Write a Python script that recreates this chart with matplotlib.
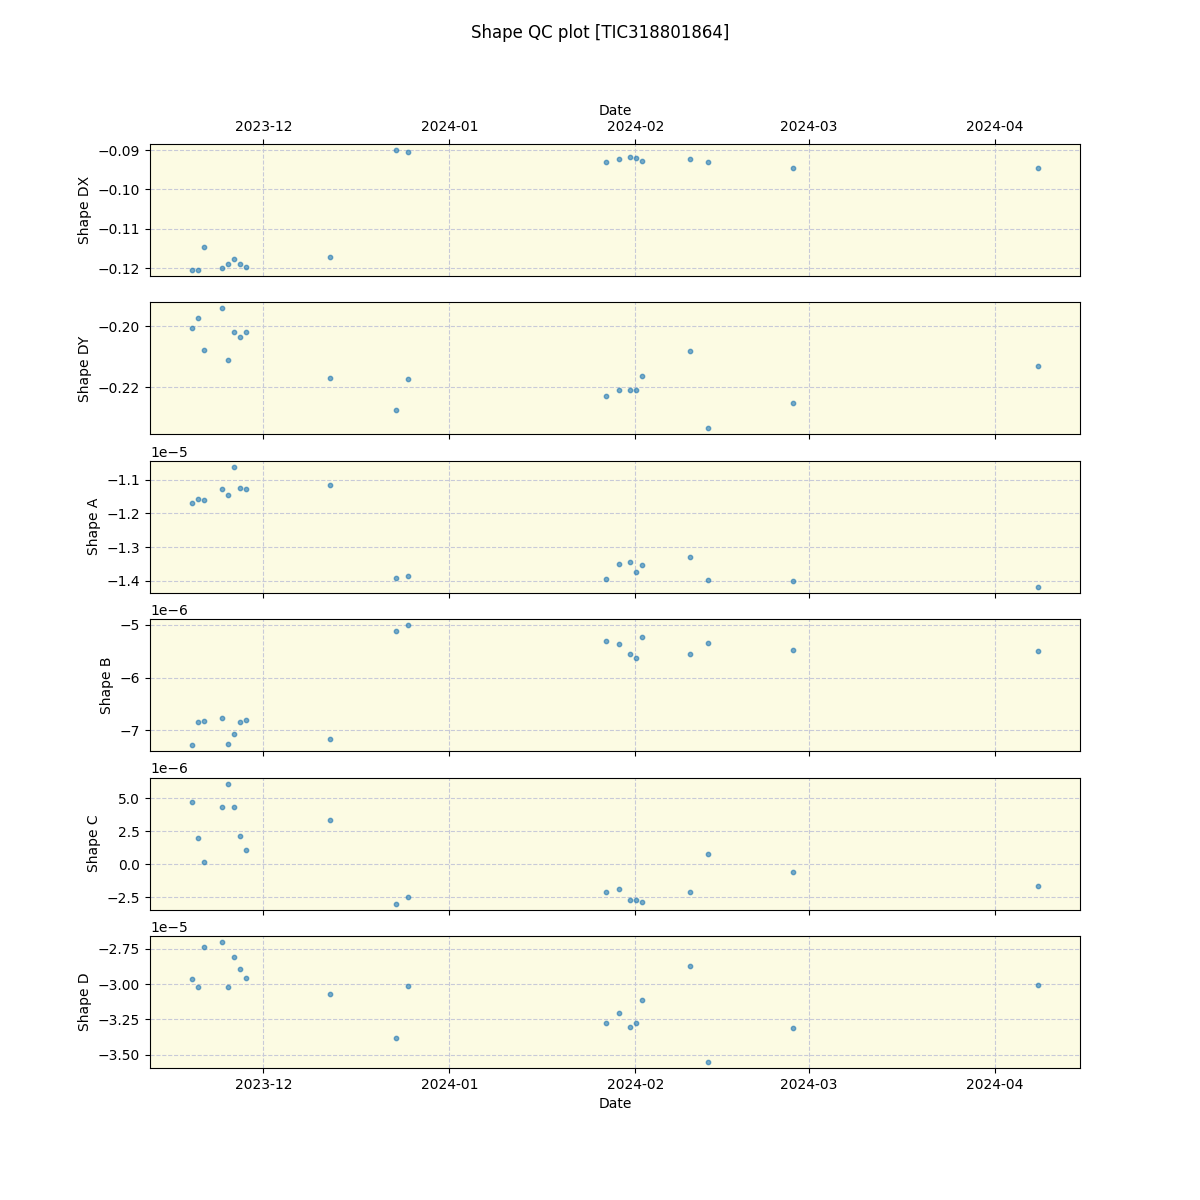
import matplotlib
matplotlib.use('Agg')
import matplotlib.pyplot as plt
import numpy as np
import pandas as pd

dates = pd.to_datetime([
    '2023-11-19 03:00', '2023-11-20 03:00', '2023-11-21 03:00', '2023-11-24 03:00',
    '2023-11-25 03:00', '2023-11-26 03:00', '2023-11-27 03:00', '2023-11-28 03:00',
    '2023-12-12 03:00', '2023-12-23 03:00', '2023-12-25 03:00', '2024-01-27 04:00',
    '2024-01-29 08:00', '2024-01-31 03:00', '2024-02-01 03:00', '2024-02-02 03:00',
    '2024-02-10 03:00', '2024-02-13 03:00', '2024-02-27 08:00', '2024-04-08 03:00',
])

shape_dx = [-0.1203, -0.1204, -0.1147, -0.1200, -0.1190, -0.1177, -0.1190, -0.1197,
            -0.1170, -0.0900, -0.0905, -0.0931, -0.0923, -0.0918, -0.0920, -0.0928,
            -0.0923, -0.0931, -0.0946, -0.0946]
shape_dy = [-0.2007, -0.1974, -0.2079, -0.1941, -0.2112, -0.2020, -0.2036, -0.2020,
            -0.2171, -0.2277, -0.2175, -0.2228, -0.2208, -0.2208, -0.2208, -0.2165,
            -0.2082, -0.2336, -0.2251, -0.2132]
shape_a = np.array([-1.1683, -1.1564, -1.1594, -1.1267, -1.1446, -1.0614, -1.1238, -1.1267,
                    -1.1149, -1.3911, -1.3851, -1.3940, -1.3495, -1.3435, -1.3732, -1.3525,
                    -1.3287, -1.3970, -1.4000, -1.4178]) * 1e-5
shape_b = np.array([-7.284, -6.847, -6.828, -6.771, -7.265, -7.075, -6.847, -6.809,
                    -7.170, -5.120, -5.006, -5.305, -5.362, -5.552, -5.629, -5.229,
                    -5.552, -5.343, -5.476, -5.495]) * 1e-6
shape_c = np.array([4.70, 1.96, 0.21, 4.32, 6.11, 4.32, 2.11, 1.12,
                    3.33, -2.97, -2.46, -2.12, -1.89, -2.73, -2.73, -2.88,
                    -2.12, 0.76, -0.61, -1.67]) * 1e-6
shape_d = np.array([-2.964, -3.020, -2.738, -2.703, -3.020, -2.809, -2.893, -2.957,
                    -3.070, -3.380, -3.013, -3.274, -3.203, -3.302, -3.274, -3.111,
                    -2.870, -3.550, -3.309, -3.005]) * 1e-5

series = [shape_dx, shape_dy, shape_a, shape_b, shape_c, shape_d]
labels = ['Shape DX', 'Shape DY', 'Shape A', 'Shape B', 'Shape C', 'Shape D']

fig, axes = plt.subplots(6, 1, figsize=(12, 12), sharex=True)
fig.suptitle('Shape QC plot [TIC318801864]')

for ax, vals, lab in zip(axes, series, labels):
    ax.set_facecolor('#fcfbe3')
    ax.scatter(dates, vals, s=10, color='tab:blue', alpha=0.6)
    ax.set_ylabel(lab)
    ax.grid(True, linestyle='--', color='#c8cad8', linewidth=0.8)
    ax.set_axisbelow(True)

axes[0].xaxis.tick_top()
axes[0].xaxis.set_label_position('top')
axes[0].tick_params(labeltop=True, labelbottom=False)
axes[0].set_xlabel('Date')
axes[-1].set_xlabel('Date')

plt.savefig('out.png', dpi=100)
